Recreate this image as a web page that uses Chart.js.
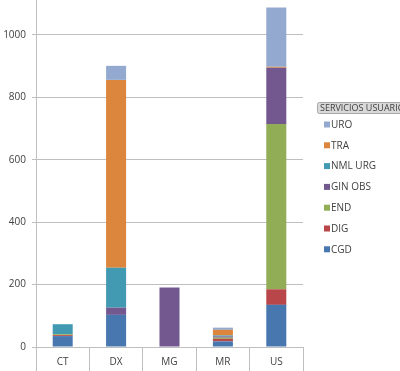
<!DOCTYPE html>
<html>
<head>
<meta charset="utf-8">
<title>Servicios usuarios</title>
<script src="https://cdn.jsdelivr.net/npm/chart.js"></script>
<style>
  body { margin: 0; padding: 0; background: #ffffff; }
  #wrap { width: 400px; height: 371px; }
</style>
</head>
<body>
<div id="wrap"><canvas id="chart"></canvas></div>
<script>
// data
const categories = ['CT', 'DX', 'MG', 'MR', 'US'];
const CGD      = [35, 103, 0, 18, 135];
const DIG      = [3, 0, 0, 8, 50];
const END      = [3, 0, 0, 4, 530];
const GIN_OBS  = [0, 23, 191, 4, 180];
const NML_URG  = [32, 128, 0, 3, 0];
const TRA      = [0, 602, 0, 18, 3];
const URO      = [0, 45, 0, 7, 190];
const yTicks   = [0, 200, 400, 600, 800, 1000];
const legendTitle = 'SERVICIOS USUARIOS';

const FONT = '"Open Sans", "DejaVu Sans", sans-serif';
const GRID = '#bfbfbf';

// ─────────────────────────────────────────────
// LEGEND ON THE RIGHT (drawn by hand, Excel style)
// ─────────────────────────────────────────────
const sideLegend = {
  id: 'sideLegend',
  afterDraw(chart) {
    const ctx = chart.ctx;
    ctx.save();

    // title in a grey rounded box
    ctx.beginPath();
    ctx.roundRect(317.5, 102.5, 100, 11, 2);
    ctx.fillStyle = '#d9d9d9';
    ctx.fill();
    ctx.strokeStyle = '#a6a6a6';
    ctx.lineWidth = 1;
    ctx.stroke();
    ctx.fillStyle = '#404040';
    ctx.font = '9px ' + FONT;
    ctx.textBaseline = 'middle';
    ctx.fillText(legendTitle, 320, 108.5);

    // items, last dataset on top
    const sets = chart.data.datasets.slice().reverse();
    ctx.font = '10px ' + FONT;
    sets.forEach((ds, i) => {
      const y = 124.5 + i * 20.8;
      ctx.fillStyle = ds.backgroundColor;
      ctx.fillRect(324, y - 3, 6, 6);
      ctx.fillStyle = '#404040';
      ctx.fillText(ds.label, 331, y + 0.5);
    });
    ctx.restore();
  }
};

new Chart(document.getElementById('chart'), {
  type: 'bar',
  data: {
    labels: categories,
    datasets: [
      { label: 'CGD',     data: CGD,     backgroundColor: '#4877b0' },
      { label: 'DIG',     data: DIG,     backgroundColor: '#b9474a' },
      { label: 'END',     data: END,     backgroundColor: '#91ad55' },
      { label: 'GIN OBS', data: GIN_OBS, backgroundColor: '#72588f' },
      { label: 'NML URG', data: NML_URG, backgroundColor: '#4199b2' },
      { label: 'TRA',     data: TRA,     backgroundColor: '#dc853c' },
      { label: 'URO',     data: URO,     backgroundColor: '#93a9cf' }
    ]
  },
  options: {
    responsive: true,
    maintainAspectRatio: false,
    animation: false,
    layout: { padding: { left: 2, right: 97, top: 0, bottom: 0 } },
    datasets: {
      bar: { barPercentage: 0.375, categoryPercentage: 1 }
    },
    plugins: {
      legend: { display: false },
      tooltip: { enabled: false }
    },
    scales: {
      x: {
        stacked: true,
        afterFit: (scale) => { scale.height = 24; },
        grid: {
          offset: true,
          drawOnChartArea: false,
          color: GRID,
          tickLength: 24
        },
        border: { display: true, color: GRID },
        ticks: {
          color: '#404040',
          padding: -15,
          font: { family: FONT, size: 10 }
        }
      },
      y: {
        stacked: true,
        min: 0,
        max: 1112,
        afterBuildTicks: (scale) => {
          scale.ticks = yTicks.map(v => ({ value: v }));
        },
        afterFit: (scale) => {
          scale.width = 34;
          scale.paddingTop = 0;
          scale.paddingBottom = 0;
        },
        grid: { color: GRID, tickLength: 4 },
        border: { display: true, color: GRID },
        ticks: {
          color: '#404040',
          padding: 6,
          font: { family: FONT, size: 10 },
          callback: (v) => String(v)
        }
      }
    }
  },
  plugins: [sideLegend]
});
</script>
</body>
</html>
